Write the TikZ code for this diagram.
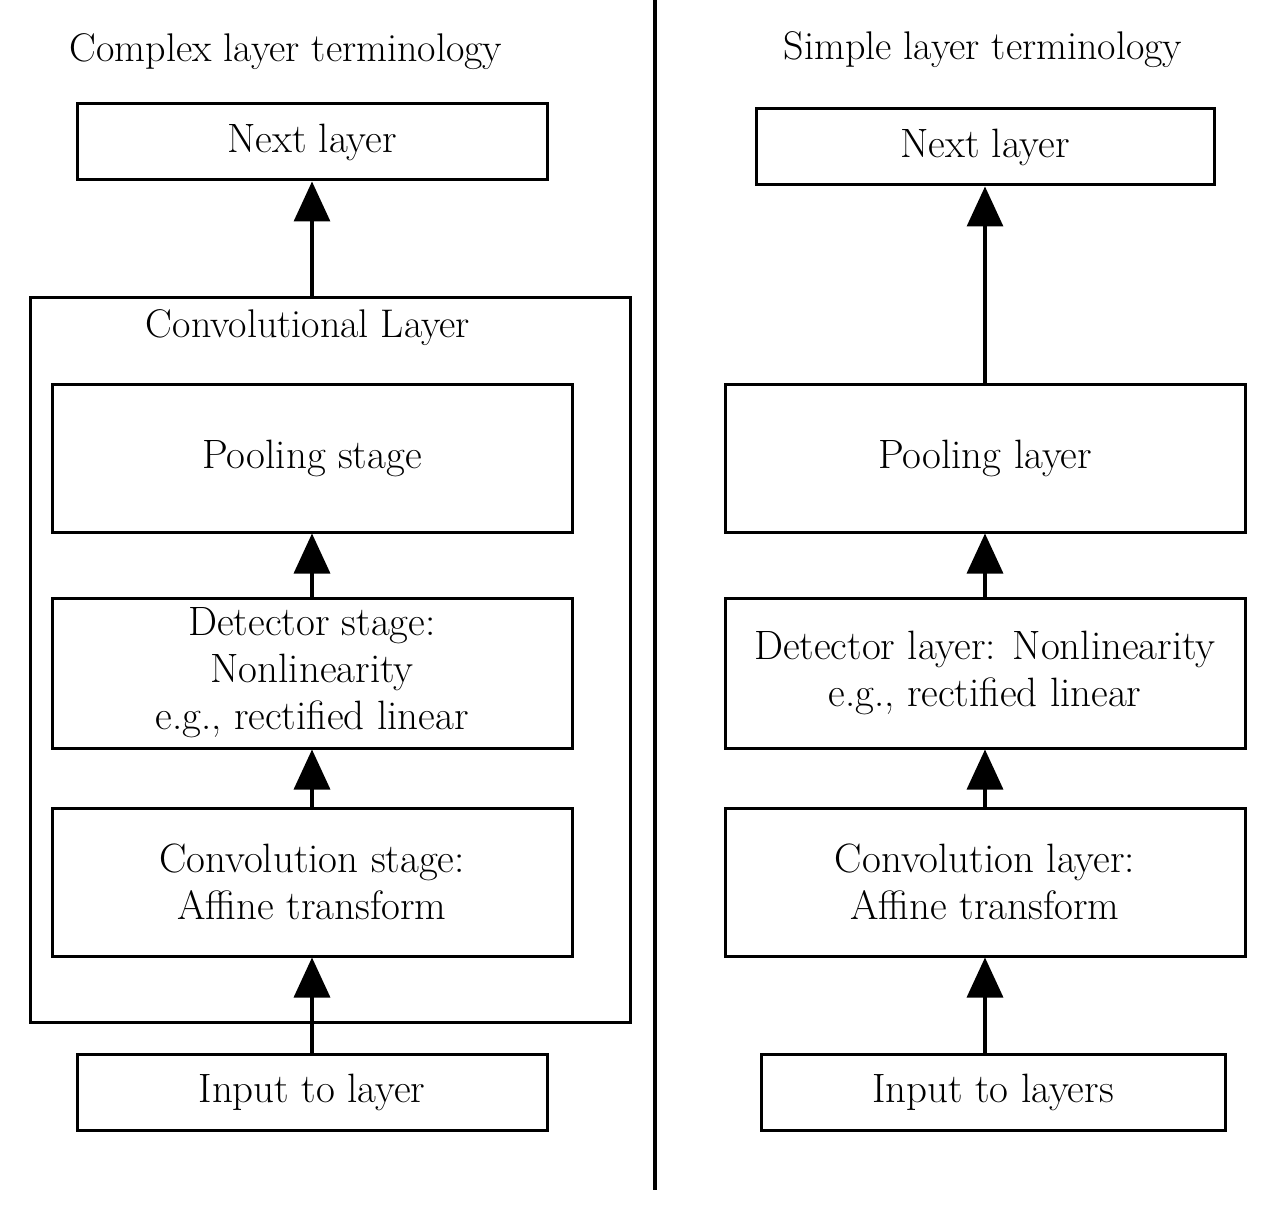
\documentclass[tikz,border=0pt]{standalone}
\usetikzlibrary{arrows.meta}

\tikzset{
  blk/.style={draw, line width=1.5pt, align=center, inner sep=0pt, font=\fontsize{20.5}{23.5}\selectfont},
  smallblk/.style={blk, minimum width=235pt, minimum height=38pt},
  bigblk/.style={blk, minimum width=260pt, minimum height=74pt},
  up/.style={line width=1.7pt, -{Triangle[width=18pt,length=20pt]}},
  ttl/.style={font=\fontsize{20}{23}\selectfont}
}

\begin{document}
\begin{tikzpicture}[x=0.5pt, y=-0.5pt]
    \useasboundingbox (0,0) rectangle (1280,1214);

    % Left side: complex layer terminology
        \node[ttl] (titleL) at (286,52) {Complex layer terminology};
        \node[smallblk] (nextL) at (312,142) {Next layer};
        \node[blk, minimum width=300pt, minimum height=362pt] (convL) at (330,660) {};
        \node[ttl] (convtitleL) at (308,328) {Convolutional Layer};
        \node[bigblk] (poolL) at (312,458) {Pooling stage};
        \node[bigblk, minimum height=75pt] (detL) at (312,673) {Detector stage:\\Nonlinearity\\e.g., rectified linear};
        \node[bigblk] (cstL) at (312,882) {Convolution stage:\\Affine transform};
        \node[smallblk] (inL) at (312,1092) {Input to layer};

        % arrows on the left
        \draw[up] (inL) -- (cstL);
        \draw[up] (cstL) -- (detL);
        \draw[up] (detL) -- (poolL);
        \draw[up] (nextL |- convL.north) -- (nextL);

    % Divider between the two sides
        \coordinate (divtop) at (655,0);
        \coordinate (divbot) at (655,1190);
        \draw[line width=1.6pt] (divtop) -- (divbot);

    % Right side: simple layer terminology
        \node[ttl] (titleR) at (983,50) {Simple layer terminology};
        \node[smallblk, minimum width=229pt] (nextR) at (985,147) {Next layer};
        \node[bigblk] (poolR) at (985,458) {Pooling layer};
        \node[bigblk, minimum height=75pt] (detR) at (985,673) {Detector layer: Nonlinearity\\e.g., rectified linear};
        \node[bigblk] (clR) at (985,882) {Convolution layer:\\Affine transform};
        \node[smallblk, minimum width=232pt] (inR) at (993,1092) {Input to layers};

        % arrows on the right
        \draw[up] (inR.north -| clR) -- (clR);
        \draw[up] (clR) -- (detR);
        \draw[up] (detR) -- (poolR);
        \draw[up] (poolR) -- (nextR);
\end{tikzpicture}
\end{document}
